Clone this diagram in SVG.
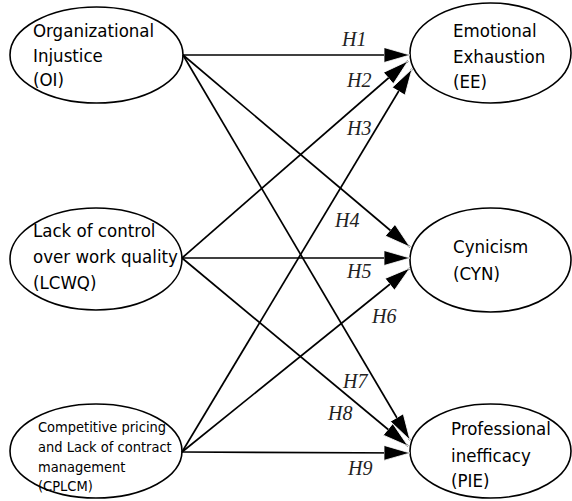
<svg xmlns="http://www.w3.org/2000/svg" width="572" height="501" viewBox="0 0 572 501">
<style>
.node ellipse{fill:#fff;stroke:#000;stroke-width:1.6}
.nt{font-family:'DejaVu Sans Condensed','DejaVu Sans',sans-serif;font-stretch:condensed;font-size:18.5px;fill:#000}
.st{font-size:14.5px}
.lbl{font-family:'Liberation Serif','Times New Roman',serif;font-style:italic;font-size:20px;fill:#222}
.edges line{stroke:#000;stroke-width:1.7;marker-end:url(#ah)}
</style>
<defs>
<marker id="ah" markerUnits="userSpaceOnUse" markerWidth="28" markerHeight="17" refX="26" refY="7.5" orient="auto" viewBox="0 0 28 17">
<path d="M0,0 L26,7.5 L0,15 Z" fill="#000" stroke="#fff" stroke-width="0.8"/>
</marker>
</defs>
<rect width="572" height="501" fill="#fff"/>
<g id="n-oi" class="node">
<ellipse cx="96.5" cy="55" rx="86.5" ry="48"/>
<text class="nt" x="33" y="37">Organizational</text>
<text class="nt" x="33" y="62">Injustice</text>
<text class="nt" x="33" y="86">(OI)</text>
</g>
<g id="n-lcwq" class="node">
<ellipse cx="96" cy="259" rx="86" ry="51"/>
<text class="nt" x="33" y="237">Lack of control</text>
<text class="nt" x="33" y="263">over work quality</text>
<text class="nt" x="33" y="289">(LCWQ)</text>
</g>
<g id="n-cplcm" class="node">
<ellipse cx="96" cy="451" rx="86" ry="47"/>
<text class="nt st" x="38" y="432">Competitive pricing</text>
<text class="nt st" x="38" y="452">and Lack of contract</text>
<text class="nt st" x="38" y="472">management</text>
<text class="nt st" x="38" y="491">(CPLCM)</text>
</g>
<g id="n-ee" class="node">
<ellipse cx="490.5" cy="53" rx="80.5" ry="50"/>
<text class="nt" x="453" y="37">Emotional</text>
<text class="nt" x="453" y="63">Exhaustion</text>
<text class="nt" x="453" y="88">(EE)</text>
</g>
<g id="n-cyn" class="node">
<ellipse cx="490.5" cy="260" rx="80.5" ry="52"/>
<text class="nt" x="453" y="253">Cynicism</text>
<text class="nt" x="453" y="280">(CYN)</text>
</g>
<g id="n-pie" class="node">
<ellipse cx="490.5" cy="451" rx="80.5" ry="47"/>
<text class="nt" x="451" y="435">Professional</text>
<text class="nt" x="451" y="462">inefficacy</text>
<text class="nt" x="451" y="487">(PIE)</text>
</g>
<g id="edges" class="edges">
<line x1="183" y1="55" x2="410" y2="55"/>
<line x1="182" y1="258" x2="408" y2="61"/>
<line x1="182" y1="452" x2="412" y2="69"/>
<line x1="183" y1="55" x2="410" y2="247"/>
<line x1="182" y1="258" x2="410" y2="258"/>
<line x1="182" y1="452" x2="410" y2="268"/>
<line x1="183" y1="55" x2="410" y2="440"/>
<line x1="182" y1="258" x2="408" y2="446"/>
<line x1="182" y1="452" x2="410" y2="453"/>
</g>
<g id="labels">
<text class="lbl" x="342" y="46">H1</text>
<text class="lbl" x="347" y="87">H2</text>
<text class="lbl" x="347" y="135">H3</text>
<text class="lbl" x="335" y="227">H4</text>
<text class="lbl" x="347" y="278">H5</text>
<text class="lbl" x="372" y="323">H6</text>
<text class="lbl" x="343" y="388">H7</text>
<text class="lbl" x="328" y="420">H8</text>
<text class="lbl" x="348" y="475">H9</text>
</g>
</svg>
